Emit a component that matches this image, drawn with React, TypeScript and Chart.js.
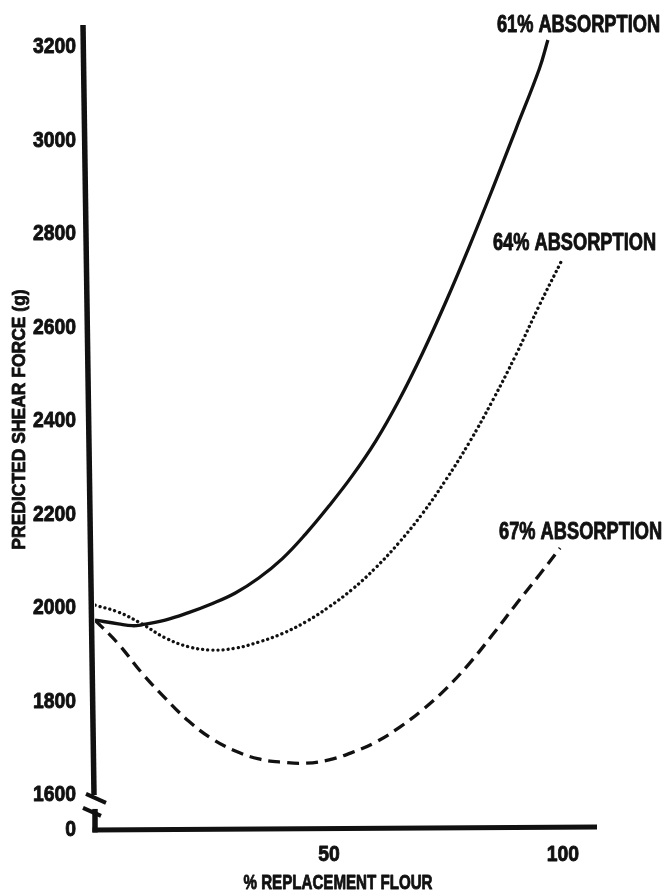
import React, { useEffect, useRef } from 'react';
import { Chart, registerables } from 'chart.js';

Chart.register(...registerables);

// ---- data ----
const yTickValues = [1600, 1800, 2000, 2200, 2400, 2600, 2800, 3000, 3200];
const yZeroValue = 1525; // where the broken axis shows "0"
const yZeroLabel = '0';
const yMin = 1525;
const yMax = 3247;
const xTickValues = [50, 100];
const xMin = 0;
const xMax = 107.3;

const xTitle = '% REPLACEMENT FLOUR';
const yTitle = 'PREDICTED SHEAR FORCE (g)';
const seriesNames = ['61% ABSORPTION', '64% ABSORPTION', '67% ABSORPTION'];

const x61 = [0, 5, 8, 10, 15, 20, 25, 30, 35, 40, 45, 50, 55, 60, 65, 70, 75, 80, 85, 90, 95, 96.8];
const y61 = [1974, 1966, 1962, 1964, 1974, 1990, 2009, 2032, 2064, 2105, 2158, 2218, 2283, 2357, 2445, 2545, 2655, 2773, 2897, 3025, 3154, 3215];

const x64 = [0, 5, 10, 15, 20, 25, 30, 35, 40, 45, 50, 55, 60, 65, 70, 75, 80, 85, 90, 95, 99.8];
const y64 = [2006, 1991, 1966, 1936, 1917, 1910, 1914, 1927, 1945, 1970, 2002, 2040, 2086, 2140, 2202, 2274, 2354, 2444, 2542, 2648, 2744];

const x67 = [0, 5, 10, 15, 20, 25, 30, 35, 40, 45, 50, 55, 60, 65, 70, 75, 80, 85, 90, 95, 99.4];
const y67 = [1974, 1923, 1861, 1807, 1758, 1720, 1694, 1677, 1670, 1668, 1675, 1691, 1713, 1744, 1782, 1827, 1881, 1943, 2008, 2071, 2128];

// ---- styles ----
const FAMILY = '"Liberation Sans", Arial, sans-serif';
const INK = '#111111';
const labelOffsets = [[-51, -15], [-69, -17], [-61, -16]];

const zip = (xs: number[], ys: number[]) => xs.map((x, i) => ({ x, y: ys[i] }));

function drawText(
  ctx: CanvasRenderingContext2D,
  text: string,
  x: number,
  y: number,
  size: number,
  sx: number,
  align: CanvasTextAlign,
  rotation = 0,
  heavy = 0.9
) {
  ctx.save();
  ctx.translate(x, y);
  if (rotation) ctx.rotate(rotation);
  ctx.scale(sx, 1);
  ctx.font = `bold ${size}px ${FAMILY}`;
  ctx.fillStyle = INK;
  ctx.strokeStyle = INK;
  ctx.lineWidth = heavy;
  ctx.lineJoin = 'round';
  ctx.textAlign = align;
  ctx.textBaseline = 'middle';
  ctx.fillText(text, 0, 0);
  if (heavy > 0) ctx.strokeText(text, 0, 0);
  ctx.restore();
}

const axisPlugin = {
  id: 'brokenAxes',
  afterDraw(chart: any) {
    const { ctx, chartArea, scales } = chart;
    const x0 = scales.x.getPixelForValue(0);
    const yB = scales.y.getPixelForValue(1600);
    const bottom = chartArea.bottom;
    ctx.save();
    ctx.strokeStyle = INK;
    ctx.lineCap = 'butt';
    ctx.lineWidth = 5.5;
    // upper y axis (slightly slanted as printed)
    ctx.beginPath();
    ctx.moveTo(x0 - 12, chartArea.top);
    ctx.lineTo(x0 - 1, yB);
    ctx.stroke();
    // lower y stub
    ctx.beginPath();
    ctx.moveTo(x0, yB + 14);
    ctx.lineTo(x0, bottom + 2.5);
    ctx.stroke();
    // x axis
    ctx.lineWidth = 5;
    ctx.beginPath();
    ctx.moveTo(x0 - 2.5, bottom);
    ctx.lineTo(chartArea.right, bottom - 3);
    ctx.stroke();
    // break marks
    ctx.lineWidth = 4;
    ctx.beginPath();
    ctx.moveTo(x0 - 9, yB - 1);
    ctx.lineTo(x0 + 11, yB + 8);
    ctx.stroke();
    ctx.beginPath();
    ctx.moveTo(x0 - 12, yB + 13);
    ctx.lineTo(x0 + 6, yB + 21);
    ctx.stroke();
    ctx.restore();

    // tick labels (condensed bold, as printed)
    const ys = scales.y;
    ys.ticks.forEach((t: any) => {
      const label = t.value === yZeroValue ? yZeroLabel : String(t.value);
      drawText(ctx, label, chartArea.left - 19, ys.getPixelForValue(t.value), 22.5, 0.86, 'right');
    });
    const xs = scales.x;
    xs.ticks.forEach((t: any) => {
      drawText(ctx, String(t.value), xs.getPixelForValue(t.value), bottom + 24.5, 22.5, 0.86, 'center');
    });
    // axis titles
    drawText(ctx, xTitle, (chartArea.left + chartArea.right) / 2 - 8, bottom + 53, 21, 0.72, 'center');
    drawText(ctx, yTitle, 20, (chartArea.top + bottom) / 2 - 8, 19, 0.92, 'center', -Math.PI / 2, 0.8);
  },
};

const labelPlugin = {
  id: 'seriesLabels',
  afterDatasetsDraw(chart: any) {
    const { ctx } = chart;
    chart.data.datasets.forEach((_ds: any, i: number) => {
      const meta = chart.getDatasetMeta(i);
      const last = meta.data[meta.data.length - 1];
      drawText(ctx, seriesNames[i], last.x + labelOffsets[i][0], last.y + labelOffsets[i][1], 24, 0.76, 'left');
    });
  },
};

export default function App() {
  const ref = useRef<HTMLCanvasElement | null>(null);

  useEffect(() => {
    if (!ref.current) return;
    const chart = new Chart(ref.current, {
      type: 'line',
      data: {
        datasets: [
          {
            label: seriesNames[0],
            data: zip(x61, y61),
            borderColor: INK,
            borderWidth: 3.3,
            tension: 0.4,
            pointRadius: 0,
            fill: false,
          },
          {
            label: seriesNames[1],
            data: zip(x64, y64),
            borderColor: INK,
            borderWidth: 3.3,
            borderDash: [0.1, 5],
            borderCapStyle: 'round',
            tension: 0.4,
            pointRadius: 0,
            fill: false,
          },
          {
            label: seriesNames[2],
            data: zip(x67, y67),
            borderColor: INK,
            borderWidth: 3.3,
            borderDash: [12, 7],
            tension: 0.4,
            pointRadius: 0,
            fill: false,
          },
        ],
      },
      options: {
        animation: false,
        responsive: true,
        maintainAspectRatio: false,
        layout: { padding: { top: 25, right: 68, bottom: 0, left: 0 } },
        plugins: { legend: { display: false }, tooltip: { enabled: false } },
        elements: { point: { radius: 0 } },
        scales: {
          x: {
            type: 'linear',
            min: xMin,
            max: xMax,
            afterBuildTicks: (s: any) => {
              s.ticks = xTickValues.map((v) => ({ value: v }));
            },
            afterFit: (s: any) => {
              s.height = 63;
            },
            grid: { display: false, drawTicks: false },
            border: { display: false },
            ticks: { display: false, autoSkip: false },
            title: { display: false, text: xTitle },
          },
          y: {
            type: 'linear',
            min: yMin,
            max: yMax,
            afterBuildTicks: (s: any) => {
              s.ticks = [yZeroValue, ...yTickValues].map((v) => ({ value: v }));
            },
            afterFit: (s: any) => {
              s.width = 95;
            },
            grid: { display: false, drawTicks: false },
            border: { display: false },
            ticks: { display: false, autoSkip: false },
            title: { display: false, text: yTitle },
          },
        },
      },
      plugins: [axisPlugin, labelPlugin],
    } as any);
    return () => chart.destroy();
  }, []);

  return (
    <div style={{ position: 'absolute', left: 0, top: 0, width: 665, height: 893, background: '#fff' }}>
      <canvas ref={ref} />
    </div>
  );
}
